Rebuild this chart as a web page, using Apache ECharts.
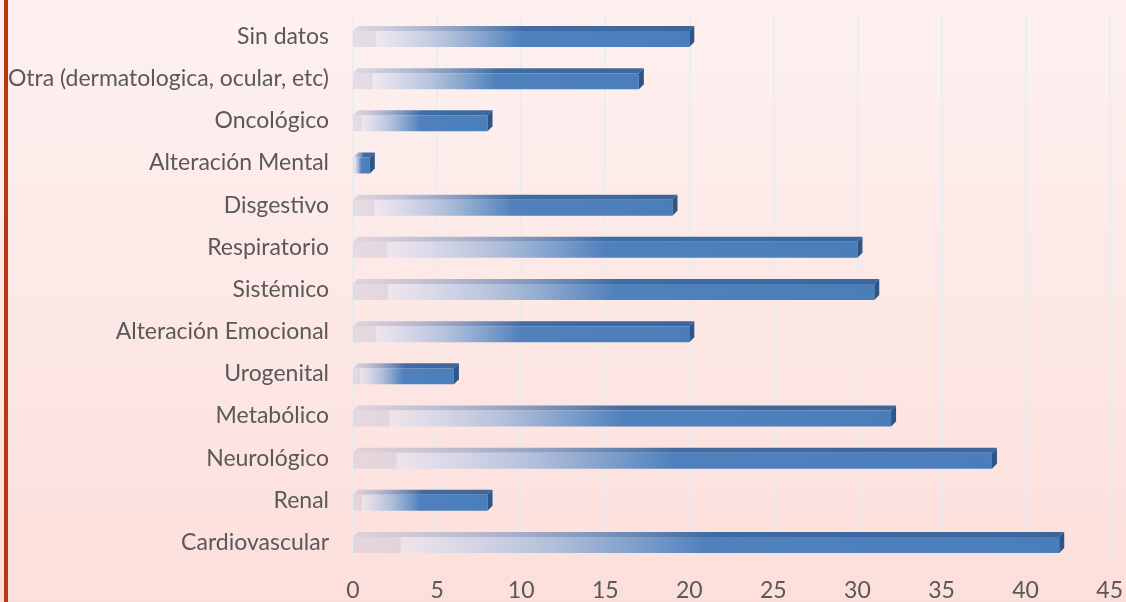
<!DOCTYPE html>
<html><head><meta charset="utf-8">
<script src="https://cdn.jsdelivr.net/npm/echarts@6/dist/echarts.min.js"></script>
<style>html,body{margin:0;padding:0;}#c{width:1126px;height:602px;}</style>
</head><body><div id="c"></div>
<script>
const categories = ["Cardiovascular","Renal","Neurológico","Metabólico","Urogenital","Alteración Emocional","Sistémico","Respiratorio","Disgestivo","Alteración Mental","Oncológico","Otra (dermatologica, ocular, etc)","Sin datos"];
const values = [42, 8, 38, 32, 6, 20, 31, 30, 19, 1, 8, 17, 20];
const xTicks = {min: 0, max: 45, interval: 5};

const chart = echarts.init(document.getElementById('c'));
const FONT = 'Lato';

function renderItem(params, api) {
  const v = api.value(1);
  const ci = api.value(0);
  const p0 = api.coord([0, ci]);
  const p1 = api.coord([v, ci]);
  const c = p0[1];
  const x0 = p0[0], x1 = p1[0];
  const dx = 5, dy = 5;
  const fTop = c - 5.5, fBot = c + 10.5;
  const w = Math.max(x1 - x0, 1);
  const front = {
    type: 'rect',
    shape: {x: x0, y: fTop, width: w, height: fBot - fTop},
    style: {
      fill: new echarts.graphic.LinearGradient(0, 0, 1, 0, [
        {offset: 0, color: 'rgba(205,200,215,0.45)'},
        {offset: 0.065, color: 'rgba(200,198,215,0.5)'},
        {offset: 0.07, color: 'rgba(232,228,240,0.7)'},
        {offset: 0.28, color: 'rgba(170,188,218,0.9)'},
        {offset: 0.5, color: '#4f81bd'},
        {offset: 1, color: '#4a7ebb'}
      ])
    }
  };
  const top = {
    type: 'polygon',
    shape: {points: [[x0, fTop], [x0 + dx, fTop - dy], [x0 + w + dx, fTop - dy], [x0 + w, fTop]]},
    style: {
      fill: new echarts.graphic.LinearGradient(0, 0, 1, 0, [
        {offset: 0, color: 'rgba(190,190,210,0.45)'},
        {offset: 0.2, color: 'rgba(150,165,200,0.75)'},
        {offset: 0.5, color: '#3f6ca3'},
        {offset: 1, color: '#3c679d'}
      ])
    }
  };
  const side = {
    type: 'polygon',
    shape: {points: [[x0 + w, fTop], [x0 + w + dx, fTop - dy], [x0 + w + dx, fBot - dy], [x0 + w, fBot]]},
    style: {fill: '#2f5587'}
  };
  return {type: 'group', children: [top, front, side]};
}

chart.setOption({
  backgroundColor: new echarts.graphic.LinearGradient(0, 0, 0, 1, [
    {offset: 0, color: '#fdf1f0'},
    {offset: 1, color: '#fcdfdb'}
  ]),
  animation: false,
  graphic: [{
    type: 'rect', left: 4, top: 0,
    shape: {width: 4, height: 602},
    style: {fill: '#b8390f'}
  }],
  grid: {left: 353, right: 8, top: 15.4, bottom: 38.4},
  xAxis: {
    type: 'value', min: xTicks.min, max: xTicks.max, interval: xTicks.interval,
    axisLine: {show: false}, axisTick: {show: false},
    axisLabel: {color: '#595959', fontFamily: FONT, fontSize: 23, margin: 15},
    splitLine: {show: true, lineStyle: {color: 'rgba(225,236,245,0.95)', width: 1.5}}
  },
  yAxis: {
    type: 'category', data: categories,
    axisLine: {show: false}, axisTick: {show: false},
    axisLabel: {color: '#595959', fontFamily: FONT, fontSize: 23, margin: 24}
  },
  series: [{
    type: 'custom',
    renderItem: renderItem,
    encode: {x: 1, y: 0},
    data: values.map((v, i) => [i, v])
  }]
});
</script></body></html>
